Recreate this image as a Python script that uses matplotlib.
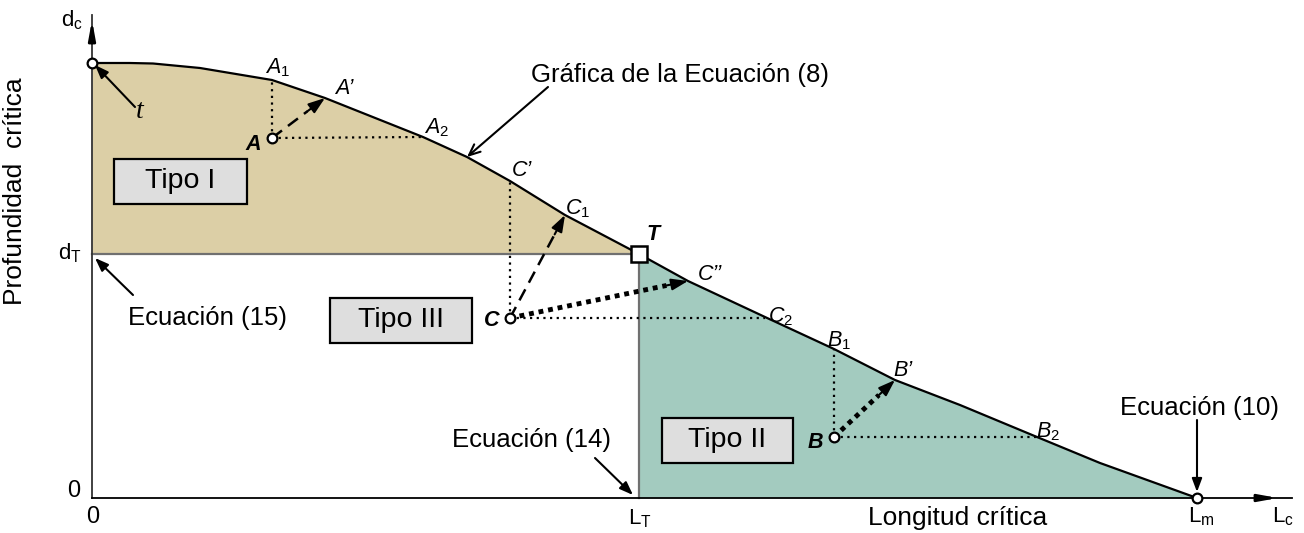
import matplotlib.pyplot as plt
from matplotlib.patches import Rectangle

plt.rcParams['font.family'] = ['Liberation Sans', 'DejaVu Sans']
plt.rcParams['mathtext.fontset'] = 'custom'
plt.rcParams['mathtext.rm'] = 'Liberation Sans'
plt.rcParams['mathtext.it'] = 'Liberation Sans:italic'
plt.rcParams['mathtext.bf'] = 'Liberation Sans:bold'

# curva de la ecuacion (8): longitud critica vs profundidad critica
curve_x = [0, 38, 61, 108, 180, 233, 331, 375, 418, 473, 547,
           596, 673, 742, 803, 868, 945, 1008, 1105]
curve_y = [435, 435, 434.5, 430, 418, 400, 361, 341, 317, 283, 244,
           217, 181, 149, 118, 93, 61, 35, 0]

d_T = 244
L_T = 547
L_m = 1105
t_pt = (0, 435)

# puntos de ejemplo y sus proyecciones sobre la curva
A, A1, A_p, A2 = (180, 360), (180, 418), (233, 400), (331, 361)
C, C_p, C1, C_pp, C2 = (418, 180), (418, 317), (473, 283), (596, 217), (673, 180)
B, B1, B_p, B2 = (742, 61), (742, 149), (803, 118), (945, 61)

tan = '#DCCFA6'
green = '#A3CBBF'
gray_box = '#DEDEDE'

fig = plt.figure(figsize=(13.04, 5.33), dpi=100)
ax = fig.add_axes([0, 0, 1, 1])
ax.set_xlim(-92, 1212)
ax.set_ylim(-35, 498)
ax.axis('off')

# zonas Tipo I y Tipo II
left_x = [x for x in curve_x if x <= L_T]
left_y = curve_y[:len(left_x)]
ax.fill_between(left_x, d_T, left_y, color=tan, lw=0, zorder=1)
right_x = [x for x in curve_x if x >= L_T]
right_y = curve_y[-len(right_x):]
ax.fill_between(right_x, 0, right_y, color=green, lw=0, zorder=1)

ax.plot(curve_x, curve_y, color='black', lw=1.6, zorder=3)
ax.plot([0, L_T], [d_T, d_T], color='#707070', lw=1.6, zorder=2)
ax.plot([L_T, L_T], [0, d_T], color='#707070', lw=1.6, zorder=2)

# ejes con flecha
ax.plot([0, 0], [0, 483], color='#333333', lw=1.3, zorder=2)
ax.plot([0, 1200], [0, 0], color='black', lw=1.3, zorder=2)
ax.annotate('', xy=(0, 478), xytext=(0, 455),
            arrowprops=dict(arrowstyle='-|>,head_length=1.1,head_width=0.2', color='black',
                            lw=2, shrinkA=0, shrinkB=0))
ax.annotate('', xy=(1186, 0), xytext=(1165, 0),
            arrowprops=dict(arrowstyle='-|>,head_length=1.1,head_width=0.2', color='black',
                            lw=2, shrinkA=0, shrinkB=0))

# lineas punteadas de proyeccion
dot = dict(color='black', lw=1.6, ls=(0, (1, 2)), zorder=4)
for p, v, h in [(A, A1, A2), (C, C_p, C2), (B, B1, B2)]:
    ax.plot([p[0], v[0]], [p[1], v[1]], **dot)
    ax.plot([p[0], h[0]], [p[1], h[1]], **dot)


def path_arrow(p, q, ls, lw):
    dx, dy = q[0] - p[0], q[1] - p[1]
    n = (dx ** 2 + dy ** 2) ** 0.5
    back = (q[0] - dx / n * 22, q[1] - dy / n * 22)
    ax.plot([p[0], back[0]], [p[1], back[1]], color='black', lw=lw, ls=ls, zorder=4)
    ax.annotate('', xy=q, xytext=back, zorder=5,
                arrowprops=dict(arrowstyle='-|>,head_length=1.0,head_width=0.35',
                                color='black', lw=1.5, shrinkA=0, shrinkB=0))


path_arrow(A, A_p, (0, (5, 3)), 1.8)
path_arrow(C, C1, (0, (5, 3)), 1.8)
path_arrow(C, C_pp, (0, (1, 1)), 3.5)
path_arrow(B, B_p, (0, (1, 1)), 3.5)

# puntos
for p in [A, B, C]:
    ax.plot(*p, 'o', ms=7, mfc='white', mec='black', mew=1.6, zorder=6)
ax.plot(*t_pt, 'o', ms=7, mfc='white', mec='black', mew=1.6, zorder=6)
ax.plot(L_m, 0, 'o', ms=7, mfc='white', mec='black', mew=1.6, zorder=6)
ax.plot(L_T, d_T, 's', ms=12, mfc='white', mec='black', mew=1.8, zorder=6)

# cajas de tipo
for cx, cy, w, label in [(88, 317, 133, 'Tipo I'), (309, 178, 142, 'Tipo III'),
                         (635, 58, 131, 'Tipo II')]:
    ax.add_patch(Rectangle((cx - w / 2, cy - 22.5), w, 45, fc=gray_box, ec='black', lw=1.6, zorder=5))
    ax.text(cx, cy, label, fontsize=20.5, ha='center', va='center', zorder=6)

fs = 15.5
it = dict(fontsize=fs, style='italic', ha='center', va='center')
bi = dict(fontsize=fs, style='italic', fontweight='bold', ha='center', va='center')
sub = dict(fontsize=fs, ha='center', va='center')
ax.text(186, 430, r'$\mathit{A}_{\mathrm{1}}$', **sub)
ax.text(252, 409, 'A’', **it)
ax.text(345, 370, r'$\mathit{A}_{\mathrm{2}}$', **sub)
ax.text(161, 354, 'A', **bi)
ax.text(430, 328, 'C’', **it)
ax.text(486, 289, r'$\mathit{C}_{\mathrm{1}}$', **sub)
ax.text(561, 264, 'T', **bi)
ax.text(618, 224, 'C’’', **it)
ax.text(689, 181, r'$\mathit{C}_{\mathrm{2}}$', **sub)
ax.text(400, 178, 'C', **bi)
ax.text(747, 157, r'$\mathit{B}_{\mathrm{1}}$', **sub)
ax.text(811, 127, 'B’', **it)
ax.text(956, 66, r'$\mathit{B}_{\mathrm{2}}$', **sub)
ax.text(723, 56, 'B', **bi)

# etiquetas de los ejes
tk = 16
ax.text(-20, 478, r'$\mathrm{d}_{\mathrm{c}}$', fontsize=tk, ha='center', va='center')
ax.text(-10, d_T + 1, r'$\mathrm{d}_{\mathrm{T}}$', fontsize=tk, ha='right', va='center')
ax.text(-12, 7, '0', fontsize=17, ha='right', va='center')
ax.text(1, -19, '0', fontsize=17, ha='center', va='center')
ax.text(L_T + 1, -21, r'$\mathrm{L}_{\mathrm{T}}$', fontsize=tk, ha='center', va='center')
ax.text(L_m + 4, -19, r'$\mathrm{L}_{\mathrm{m}}$', fontsize=tk, ha='center', va='center')
ax.text(1191, -19, r'$\mathrm{L}_{\mathrm{c}}$', fontsize=tk, ha='center', va='center')
ax.text(866, -20, 'Longitud crítica', fontsize=19, ha='center', va='center')
ax.text(-77, 307, 'Profundidad  crítica', fontsize=19, rotation=90, ha='center', va='center')

# anotaciones con flecha
fe = 18.5
arr = dict(arrowstyle='-|>,head_length=0.8,head_width=0.3', color='black', lw=1.5,
           shrinkA=0, shrinkB=0)
ax.text(48, 386, 't', fontsize=20, style='italic', family='Liberation Serif',
        ha='center', va='center')
ax.annotate('', xy=(3, 433), xytext=(43, 391), arrowprops=arr)
ax.text(439, 423, 'Gráfica de la Ecuación (8)', fontsize=fe, ha='left', va='center')
ax.annotate('', xy=(375, 341), xytext=(456, 411),
            arrowprops=dict(arrowstyle='->,head_length=0.8,head_width=0.35', color='black',
                            lw=1.5, shrinkA=0, shrinkB=0))
ax.text(36, 180, 'Ecuación (15)', fontsize=fe, ha='left', va='center')
ax.annotate('', xy=(3, 240), xytext=(41, 203), arrowprops=arr)
ax.text(440, 58, 'Ecuación (14)', fontsize=fe, ha='center', va='center')
ax.annotate('', xy=(541, 3), xytext=(503, 40), arrowprops=arr)
ax.text(1107, 90, 'Ecuación (10)', fontsize=fe, ha='center', va='center')
ax.annotate('', xy=(L_m, 6), xytext=(L_m, 78), arrowprops=arr)

fig.savefig('out.png', dpi=100)
